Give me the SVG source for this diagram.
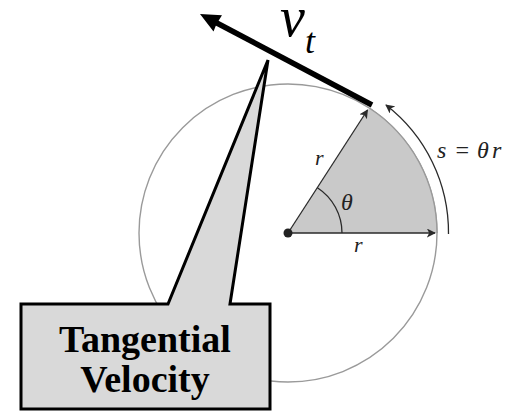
<svg xmlns="http://www.w3.org/2000/svg" width="515" height="411" viewBox="0 0 515 411">
<style>
.lbl{font-family:'Liberation Serif','Times New Roman',serif;font-style:italic;fill:#222}
.thin{stroke:#2a2a2a;stroke-width:1.3;fill:none}
.callout{font-family:'Liberation Serif','Times New Roman',serif;font-weight:bold;font-size:38px;fill:#000;text-anchor:middle}
.vt{font-family:'Liberation Serif','Times New Roman',serif;font-style:italic;fill:#000}
</style>
<defs>
<marker id="ah" viewBox="0 0 10 10" refX="9" refY="5" markerWidth="9" markerHeight="9" markerUnits="userSpaceOnUse" orient="auto">
<path d="M0,0 L10,5 L0,10 L2.5,5 Z" fill="#2a2a2a"/>
</marker>
</defs>
<rect width="515" height="411" fill="#fff"/>
<g id="circle">
<circle cx="288" cy="233" r="149" fill="none" stroke="#9a9a9a" stroke-width="1.4"/>
<path d="M288,233 L437,233 A149,149 0 0 0 369.2,108 Z" fill="#c9c9c9" stroke="none"/>
<path d="M437,233 A149,149 0 0 0 369.2,108" fill="none" stroke="#9a9a9a" stroke-width="1.4"/>
</g>
<g id="connectors">
<line class="thin" x1="288" y1="233" x2="435" y2="233" marker-end="url(#ah)"/>
<line class="thin" x1="288" y1="233" x2="367.5" y2="110" marker-end="url(#ah)"/>
<path class="thin" d="M342,233 A54,54 0 0 0 317.4,187.7"/>
<path class="thin" d="M448.5,234 A161,161 0 0 0 386,105" marker-end="url(#ah)"/>
<circle cx="288" cy="233" r="4.5" fill="#222"/>
</g>
<g id="labels">
<text class="lbl" x="315" y="165" font-size="22">r</text>
<text class="lbl" x="354" y="252" font-size="22">r</text>
<text class="lbl" x="341" y="210" font-size="24">θ</text>
<text class="lbl" x="437" y="158" font-size="24">s</text>
<text class="lbl" x="454" y="158" font-size="24" font-style="normal">=</text>
<text class="lbl" x="477" y="158" font-size="24">θ</text>
<text class="lbl" x="492" y="158" font-size="24">r</text>
</g>
<g id="callout">
<path d="M21,304 L168,304 L268,60 L230,304 L270,304 L270,409 L21,409 Z" fill="#d9d9d9" stroke="#000" stroke-width="3" stroke-linejoin="miter"/>
<text class="callout" x="145" y="352">Tangential</text>
<text class="callout" x="145" y="392">Velocity</text>
</g>
<g id="velocity">
<line x1="372" y1="105" x2="214" y2="21.5" stroke="#000" stroke-width="5.5"/>
<path d="M200,14 L222,15.2 L216.5,24 L213.5,31.6 Z" fill="#000"/>
<text class="vt" x="280" y="36" font-size="56">v</text>
<text class="vt" x="305" y="53" font-size="36">t</text>
</g>
</svg>
